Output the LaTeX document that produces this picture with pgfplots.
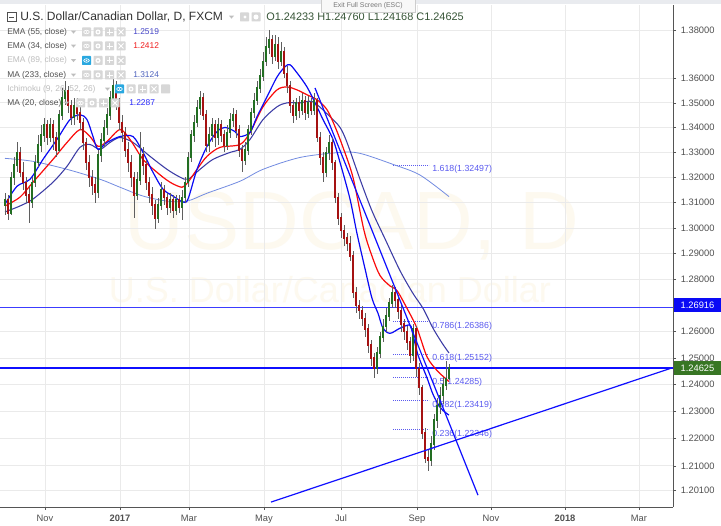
\documentclass[border=0pt]{standalone}
\usepackage{fontspec}
\setmainfont{Liberation Sans}
\usepackage{pgfplots}
\usepackage{pgfplotstable}
\pgfplotsset{compat=1.18}

\definecolor{upc}{RGB}{34,110,34}
\definecolor{dnc}{RGB}{165,18,18}
\definecolor{wickc}{RGB}{95,95,95}
\definecolor{ma20}{RGB}{10,10,245}
\definecolor{ema34}{RGB}{250,10,10}
\definecolor{ema55}{RGB}{60,60,165}
\definecolor{ma233}{RGB}{115,140,225}
\definecolor{trend}{RGB}{15,15,255}
\definecolor{levelc}{RGB}{60,60,255}
\definecolor{gridc}{RGB}{234,234,234}
\definecolor{axc}{RGB}{85,85,85}
\definecolor{txt}{RGB}{80,80,80}
\definecolor{fibc}{RGB}{90,90,240}
\definecolor{wm}{RGB}{253,249,239}
\definecolor{iconc}{RGB}{215,215,215}
\definecolor{eyec}{RGB}{41,168,224}
\definecolor{pricegreen}{RGB}{56,118,36}
\definecolor{topc}{RGB}{233,235,239}
\definecolor{hidc}{RGB}{190,190,190}
\definecolor{ohlc}{RGB}{55,85,55}

% daily candles, x in chart pixels
\pgfplotstableread{
x o h l c
5 1.309 1.314 1.305 1.311
8 1.311 1.313 1.303 1.306
11 1.306 1.322 1.305 1.320
14 1.320 1.328 1.317 1.325
17 1.325 1.334 1.322 1.330
20 1.330 1.332 1.320 1.322
23 1.322 1.326 1.315 1.318
26 1.318 1.320 1.310 1.313
29 1.313 1.316 1.302 1.310
32 1.310 1.320 1.308 1.318
35 1.318 1.329 1.316 1.326
38 1.326 1.337 1.324 1.333
41 1.333 1.341 1.330 1.337
44 1.337 1.344 1.334 1.341
47 1.341 1.343 1.333 1.336
50 1.336 1.344 1.334 1.341
53 1.341 1.343 1.331 1.336
56 1.336 1.338 1.328 1.331
59 1.331 1.347 1.330 1.345
62 1.345 1.356 1.343 1.352
65 1.352 1.359 1.349 1.355
68 1.355 1.357 1.346 1.349
71 1.349 1.351 1.341 1.344
74 1.344 1.352 1.341 1.349
77 1.349 1.352 1.343 1.346
80 1.346 1.349 1.339 1.342
83 1.342 1.344 1.331 1.334
86 1.334 1.336 1.323 1.326
89 1.326 1.329 1.316 1.320
92 1.320 1.323 1.313 1.317
95 1.317 1.320 1.310 1.314
98 1.314 1.331 1.312 1.329
101 1.329 1.338 1.326 1.335
104 1.335 1.343 1.332 1.340
107 1.340 1.348 1.337 1.345
110 1.345 1.355 1.343 1.352
113 1.352 1.360 1.350 1.357
116 1.357 1.359 1.347 1.350
119 1.350 1.352 1.339 1.342
122 1.342 1.345 1.334 1.338
125 1.338 1.340 1.328 1.331
128 1.331 1.334 1.322 1.326
131 1.326 1.329 1.316 1.320
134 1.320 1.322 1.304 1.313
137 1.313 1.322 1.311 1.319
140 1.319 1.338 1.317 1.329
143 1.329 1.332 1.321 1.325
146 1.325 1.327 1.315 1.318
149 1.318 1.320 1.310 1.313
152 1.313 1.316 1.305 1.309
155 1.309 1.311 1.2995 1.304
158 1.304 1.312 1.302 1.309
161 1.309 1.318 1.307 1.315
164 1.315 1.317 1.309 1.312
167 1.312 1.314 1.305 1.308
170 1.308 1.314 1.306 1.311
173 1.311 1.313 1.304 1.307
176 1.307 1.313 1.305 1.311
179 1.311 1.313 1.306 1.308
182 1.308 1.315 1.303 1.312
185 1.312 1.320 1.310 1.318
188 1.318 1.330 1.316 1.328
191 1.328 1.339 1.326 1.337
194 1.337 1.345 1.334 1.342
197 1.342 1.351 1.340 1.348
200 1.348 1.355 1.345 1.352
203 1.352 1.354 1.343 1.345
206 1.345 1.347 1.330 1.333
209 1.333 1.340 1.330 1.337
212 1.337 1.344 1.334 1.341
215 1.341 1.343 1.332 1.336
218 1.336 1.344 1.333 1.341
221 1.341 1.343 1.334 1.337
224 1.337 1.339 1.330 1.333
227 1.333 1.341 1.331 1.338
230 1.338 1.346 1.336 1.343
233 1.343 1.348 1.340 1.345
236 1.345 1.347 1.336 1.339
239 1.339 1.341 1.328 1.331
242 1.331 1.333 1.322 1.327
245 1.327 1.334 1.325 1.331
248 1.331 1.341 1.329 1.339
251 1.339 1.348 1.337 1.346
254 1.346 1.354 1.344 1.351
257 1.351 1.359 1.349 1.356
260 1.356 1.364 1.354 1.361
263 1.361 1.371 1.359 1.367
266 1.367 1.377 1.365 1.373
269 1.373 1.380 1.370 1.376
272 1.376 1.378 1.366 1.369
275 1.369 1.378 1.367 1.374
278 1.374 1.377 1.364 1.367
281 1.367 1.375 1.365 1.371
284 1.371 1.373 1.360 1.362
287 1.362 1.365 1.354 1.357
290 1.357 1.359 1.346 1.349
293 1.349 1.351 1.342 1.345
296 1.345 1.352 1.343 1.350
299 1.350 1.353 1.344 1.347
302 1.347 1.354 1.345 1.351
305 1.351 1.353 1.343 1.346
308 1.346 1.353 1.344 1.350
311 1.350 1.352 1.345 1.347
314 1.347 1.354 1.345 1.351
317 1.351 1.352 1.334 1.336
320 1.336 1.338 1.325 1.328
323 1.328 1.330 1.318 1.322
326 1.322 1.332 1.320 1.330
329 1.330 1.337 1.327 1.334
332 1.334 1.336 1.323 1.326
335 1.326 1.327 1.310 1.312
338 1.312 1.314 1.301 1.304
341 1.304 1.306 1.296 1.299
344 1.299 1.301 1.293 1.296
347 1.296 1.298 1.291 1.294
350 1.294 1.297 1.287 1.289
353 1.289 1.291 1.273 1.275
356 1.275 1.277 1.267 1.270
359 1.270 1.272 1.265 1.268
362 1.268 1.270 1.262 1.265
365 1.265 1.267 1.258 1.261
368 1.261 1.263 1.252 1.255
371 1.255 1.257 1.247 1.250
374 1.250 1.252 1.2426 1.246
377 1.246 1.254 1.244 1.252
380 1.252 1.260 1.250 1.258
383 1.258 1.265 1.256 1.262
386 1.262 1.269 1.260 1.266
389 1.266 1.273 1.264 1.271
392 1.271 1.2777 1.269 1.275
395 1.275 1.277 1.269 1.272
398 1.272 1.274 1.265 1.268
401 1.268 1.270 1.260 1.263
404 1.263 1.265 1.257 1.260
407 1.260 1.262 1.253 1.256
410 1.256 1.258 1.248 1.251
413 1.251 1.263 1.249 1.261
416 1.261 1.262 1.243 1.246
419 1.246 1.248 1.236 1.239
422 1.239 1.240 1.220 1.222
425 1.222 1.224 1.211 1.213
428 1.213 1.216 1.208 1.212
431 1.212 1.221 1.210 1.218
434 1.218 1.229 1.216 1.227
437 1.227 1.235 1.224 1.232
440 1.232 1.239 1.229 1.236
443 1.236 1.243 1.233 1.240
446 1.240 1.249 1.238 1.24233
449 1.24233 1.24760 1.24168 1.24625
}\candles

% legend icon row: x start, y centre, colour of first box
\newcommand{\icons}[3]{%
  \fill[#3,rounded corners=0.5pt] (#1,#2-4.5) rectangle ++(9,9);
  \draw[white,line width=0.5pt] (#1+4.5,#2) ellipse (2.1pt and 1.3pt);
  \fill[white] (#1+4.5,#2) circle (0.7pt);
  \fill[iconc,rounded corners=0.5pt] (#1+11.5,#2-4.5) rectangle ++(9,9);
  \fill[white] (#1+16,#2) circle (1.9pt);
  \fill[iconc] (#1+16,#2) circle (0.8pt);
  \fill[iconc,rounded corners=0.5pt] (#1+23,#2-4.5) rectangle ++(9,9);
  \draw[white,line width=0.7pt] (#1+27.5,#2-3) -- (#1+27.5,#2+3) (#1+24.5,#2) -- (#1+30.5,#2);
  \fill[iconc,rounded corners=0.5pt] (#1+34.5,#2-4.5) rectangle ++(9,9);
  \draw[white,line width=0.7pt] (#1+36.5,#2-2.5) -- (#1+41.5,#2+2.5) (#1+36.5,#2+2.5) -- (#1+41.5,#2-2.5);
}
\newcommand{\tri}[2]{\fill[hidc] (#1,#2-1.3) -- (#1+5,#2-1.3) -- (#1+2.5,#2+1.6) -- cycle;}

\pgfplotsset{candle/.style 2 args={draw=none,mark=none,forget plot,
  error bars/.cd,y dir=both,y explicit,error mark=none,
  error bar style={draw=#1,solid,line cap=butt,line width=#2},/pgfplots/.cd}}

\begin{document}
\begin{tikzpicture}
% background and watermark, image pixels (y down)
\begin{scope}[x=0.75pt,y=-0.75pt,yshift=380.25pt]
  \fill[white] (0,0) rectangle (721,525);
  \fill[topc] (0,0) rectangle (721,4);
  \node[text=wm,font=\fontsize{62}{62}\selectfont] at (352,226) {USDCAD, D};
  \node[text=wm,font=\fontsize{27}{27}\selectfont] at (330,290) {U.S. Dollar/Canadian Dollar};
\end{scope}

\begin{axis}[
  at={(0,0)}, anchor=south west,
  scale only axis, width=504.75pt, height=376.5pt,
  xmin=0, xmax=673,
  ymode=log, ymin=1.19511, ymax=1.39044,
  axis x line*=bottom, axis y line*=right,
  axis line style={axc,line width=0.6pt},
  tick align=outside, major tick length=2.3pt,
  tick style={axc,line width=0.5pt},
  xtick={45,120,189,264,341,417,491,565,639},
  xticklabels={Nov,\textbf{2017},Mar,May,Jul,Sep,Nov,\textbf{2018},Mar},
  ytick={1.201,1.21,1.22,1.23,1.24,1.25,1.26,1.28,1.29,1.30,1.31,1.32,1.33,1.34,1.35,1.36,1.38},
  yticklabels={1.20100,1.21000,1.22000,1.23000,1.24000,1.25000,1.26000,1.28000,1.29000,1.30000,1.31000,1.32000,1.33000,1.34000,1.35000,1.36000,1.38000},
  xmajorgrids, ymajorgrids, grid style={gridc,line width=0.6pt},
  ticklabel style={font=\fontsize{7}{8}\selectfont, text=txt},
  yticklabel style={anchor=west},
]
% horizontal levels (under the candles)
\addplot[draw=levelc,line width=1pt,mark=none,forget plot] table[row sep=\\] {x y\\ 0 1.26916\\ 673 1.26916\\};
\addplot[draw=trend,line width=1.1pt,mark=none] coordinates {(0,1.24625) (673,1.24625)};

% fibonacci levels
\addplot[fibc,line width=0.5pt,dash pattern=on 0.6pt off 0.9pt] coordinates {(393,1.32497) (429,1.32497)};
\addplot[fibc,line width=0.5pt,dash pattern=on 0.6pt off 0.9pt] coordinates {(393,1.26386) (429,1.26386)};
\addplot[fibc,line width=0.5pt,dash pattern=on 0.6pt off 0.9pt] coordinates {(393,1.25152) (429,1.25152)};
\addplot[fibc,line width=0.5pt,dash pattern=on 0.6pt off 0.9pt] coordinates {(393,1.24285) (429,1.24285)};
\addplot[fibc,line width=0.5pt,dash pattern=on 0.6pt off 0.9pt] coordinates {(393,1.23419) (429,1.23419)};
\addplot[fibc,line width=0.5pt,dash pattern=on 0.6pt off 0.9pt] coordinates {(393,1.22346) (429,1.22346)};
\begin{scope}[every node/.style={anchor=west,text=fibc,font=\fontsize{6.6}{7}\selectfont,inner sep=0pt,yshift=-3.5pt}]
\node at (axis cs:432,1.32497) {1.618(1.32497)};
\node at (axis cs:432,1.26386) {0.786(1.26386)};
\node at (axis cs:432,1.25152) {0.618(1.25152)};
\node at (axis cs:432,1.24285) {0.5(1.24285)};
\node at (axis cs:432,1.23419) {0.382(1.23419)};
\node at (axis cs:432,1.22346) {0.236(1.22346)};
\end{scope}

% moving averages
\addplot[ma233,line width=0.6pt,smooth] coordinates {(5,1.3276) (33,1.3264) (67,1.3232) (100,1.3193) (120,1.3161) (143,1.3126) (167,1.3106) (187,1.3106) (207,1.3137) (240,1.3185) (263,1.3232) (300,1.3280) (340,1.3300) (360,1.3296) (393,1.3252) (420,1.3209) (449,1.3124)};
\addplot[ema55,line width=0.8pt,smooth] coordinates {(5,1.3063) (20,1.3087) (33,1.3114) (53,1.3181) (67,1.3244) (80,1.3320) (90,1.3332) (100,1.3312) (110,1.3340) (120,1.3360) (133,1.3340) (150,1.3284) (167,1.3232) (180,1.3201) (188,1.3193) (200,1.3232) (213,1.3272) (230,1.3300) (240,1.3312) (250,1.3352) (263,1.3432) (277,1.3484) (287,1.3500) (300,1.3500) (313,1.3504) (330,1.3444) (340,1.3400) (347,1.3340) (360,1.3193) (372,1.3067) (385,1.2958) (400,1.2834) (413,1.2746) (423,1.2689) (433,1.2613) (442,1.2557) (449,1.2519)};
\addplot[ema34,line width=0.9pt,smooth] coordinates {(5,1.3087) (20,1.3122) (33,1.3181) (53,1.3272) (67,1.3340) (80,1.3392) (90,1.3364) (98,1.3324) (107,1.3344) (120,1.3392) (130,1.3352) (143,1.3272) (157,1.3220) (170,1.3181) (182,1.3161) (188,1.3181) (197,1.3232) (207,1.3284) (220,1.3320) (240,1.3332) (250,1.3380) (263,1.3484) (277,1.3553) (287,1.3565) (297,1.3553) (307,1.3533) (317,1.3513) (327,1.3472) (335,1.3404) (343,1.3320) (353,1.3200) (364,1.2990) (372,1.2890) (380,1.2815) (390,1.2775) (397,1.2757) (407,1.2689) (417,1.2613) (427,1.2505) (437,1.2453) (443,1.2432) (449,1.2412)};
\addplot[ma20,line width=0.9pt,smooth] coordinates {(5,1.3094) (17,1.3165) (30,1.3193) (43,1.3272) (57,1.3352) (70,1.3432) (80,1.3452) (87,1.3432) (93,1.3364) (98,1.3312) (107,1.3340) (120,1.3364) (133,1.3364) (143,1.3300) (153,1.3220) (163,1.3153) (173,1.3126) (183,1.3102) (188,1.3114) (197,1.3232) (207,1.3324) (217,1.3384) (225,1.3400) (235,1.3384) (240,1.3364) (250,1.3380) (257,1.3444) (267,1.3525) (277,1.3606) (285,1.3648) (290,1.3656) (297,1.3623) (307,1.3565) (317,1.3484) (323,1.3432) (333,1.3352) (340,1.3260) (350,1.3114) (357,1.2978) (365,1.2842) (372,1.2727) (378,1.2670) (383,1.2613) (390,1.2594) (400,1.2613) (410,1.2625) (413,1.2587) (418,1.2512) (427,1.2426) (433,1.2364) (440,1.2316) (446,1.2295) (449,1.2287)};

% candles: wicks, then bodies
\addplot[candle={wickc}{0.45pt}]
  table[x=x,y expr={(\thisrow{h}+\thisrow{l})/2},y error expr={(\thisrow{h}-\thisrow{l})/2}] {\candles};
\addplot[unbounded coords=discard,candle={upc}{1.6pt}]
  table[x=x,y expr={ifthenelse(\thisrow{c}>=\thisrow{o},(\thisrow{o}+\thisrow{c})/2,nan)},
        y error expr={abs(\thisrow{c}-\thisrow{o})/2+0.0003}] {\candles};
\addplot[unbounded coords=discard,candle={dnc}{1.6pt}]
  table[x=x,y expr={ifthenelse(\thisrow{c}<\thisrow{o},(\thisrow{o}+\thisrow{c})/2,nan)},
        y error expr={abs(\thisrow{c}-\thisrow{o})/2+0.0003}] {\candles};

% trend lines
\addplot[draw=trend,line width=0.9pt,mark=none] coordinates {(315,1.3561) (478,1.1994)};
\addplot[draw=trend,line width=0.9pt,mark=none] coordinates {(271,1.1969) (672,1.2463)};
\end{axis}

% overlays, image pixels (y down)
\begin{scope}[x=0.75pt,y=-0.75pt,yshift=380.25pt]
  % price tags
  \fill[ma20] (674,298) rectangle (721,312);
  \node[text=white,font=\fontsize{7}{8}\selectfont] at (697.5,305) {1.26916};
  \fill[pricegreen] (674,361) rectangle (721,375);
  \node[text=white,font=\fontsize{7}{8}\selectfont] at (697.5,368) {1.24625};
  % header
  \draw[txt,line width=0.5pt] (7,12.5) rectangle (16,21.5);
  \draw[txt,line width=0.6pt] (9,17) -- (14,17);
  \node[anchor=west,inner sep=0pt,text={rgb,255:red,50;green,50;blue,50},font=\fontsize{9}{10}\selectfont] at (20,17) {U.S. Dollar/Canadian Dollar, D, FXCM};
  \tri{229}{17}
  \fill[iconc,rounded corners=0.5pt] (240,12.5) rectangle ++(9,9);
  \fill[iconc,rounded corners=0.5pt] (251.5,12.5) rectangle ++(9,9);
  \fill[white] (245,17) circle (1.3pt);
  \fill[white] (256,17) circle (1.9pt);
  \node[anchor=west,inner sep=0pt,text=ohlc,font=\fontsize{8.2}{9}\selectfont] at (266,17) {O1.24233 H1.24760 L1.24168 C1.24625};
  % tooltip
  \filldraw[fill={rgb,255:red,248;green,248;blue,248},draw={rgb,255:red,205;green,205;blue,205},line width=0.4pt] (321,-1) rectangle (415,12);
  \node[text={rgb,255:red,120;green,120;blue,120},font=\fontsize{5.2}{6}\selectfont] at (368,6) {Exit Full Screen (ESC)};
  % indicator legend
  \begin{scope}[every node/.style={anchor=west,inner sep=0pt,font=\fontsize{6.3}{7}\selectfont}]
  \node[text=txt] at (7,32) {EMA (55, close)}; \tri{71}{32} \icons{82}{32}{iconc}
  \node[text={rgb,255:red,70;green,70;blue,200}] at (133,32) {1.2519};
  \node[text=txt] at (7,46) {EMA (34, close)}; \tri{71}{46} \icons{82}{46}{iconc}
  \node[text={rgb,255:red,240;green,30;blue,30}] at (133,46) {1.2412};
  \node[text=hidc] at (7,60.5) {EMA (89, close)}; \tri{71}{60.5} \icons{82}{60.5}{eyec}
  \node[text=txt] at (7,75) {MA (233, close)}; \tri{71}{75} \icons{82}{75}{iconc}
  \node[text={rgb,255:red,80;green,100;blue,190}] at (133,75) {1.3124};
  \node[text=hidc] at (7,89) {Ichimoku (9, 26, 52, 26)}; \tri{105}{89} \icons{115}{89}{eyec}
  \fill[iconc,rounded corners=0.5pt] (161,84.5) rectangle ++(9,9);
  \node[text=txt] at (7,103) {MA (20, close)}; \tri{64}{103} \icons{76}{103}{iconc}
  \node[text={rgb,255:red,40;green,40;blue,250}] at (129,103) {1.2287};
  \end{scope}
  \pgfresetboundingbox
  \path[use as bounding box] (0,0) rectangle (721,525);
\end{scope}
\end{tikzpicture}
\end{document}
